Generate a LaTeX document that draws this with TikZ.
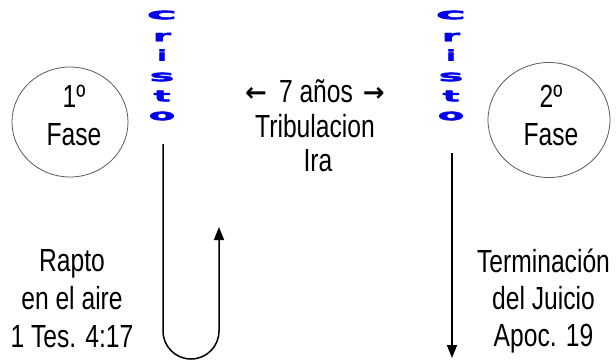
\documentclass[tikz,border=0pt]{standalone}
\usepackage{fontspec}
\setmainfont{Liberation Sans}[FakeStretch=0.77]
\newfontfamily\arrowfont{DejaVu Sans Bold}
\newfontfamily\cristofont{DejaVu Sans Bold}[FakeBold=2.5]
\usetikzlibrary{arrows.meta,shapes.geometric}
\definecolor{cblue}{RGB}{0,0,235}
\newcommand{\cletter}[2]{\scalebox{#1}[0.95]{#2}}
\newcommand{\sidearrow}[1]{\raisebox{1.5pt}{\arrowfont\fontsize{26}{26}\selectfont #1}}
\begin{document}
\begin{tikzpicture}[x=1pt,y=-1pt,
  txtA/.style={font=\fontsize{32}{38}\selectfont, align=center, inner sep=0pt},
  txtB/.style={font=\fontsize{32}{34.5}\selectfont, align=center, inner sep=0pt},
  txtC/.style={font=\fontsize{32}{38}\selectfont, align=center, inner sep=0pt},
  txtD/.style={font=\fontsize{32}{37}\selectfont, align=center, inner sep=0pt},
  fase/.style={ellipse, draw=black!65, line width=0.8pt, inner sep=0pt},
  letter/.style={font=\cristofont\fontsize{16}{16}\selectfont, text=cblue, inner sep=0pt},
  conn/.style={line width=1.5pt, -{Triangle[width=10pt,length=13pt]}}
]
\useasboundingbox (0,0) rectangle (616,360);
% circles
\node[fase, minimum width=116pt, minimum height=110pt] (f1) at (70,122) {};
\node[fase, minimum width=122pt, minimum height=115pt] (f2) at (549,120) {};
\node[txtA] (f1t) at (74,115.3) {1º\\Fase};
\node[txtA] (f2t) at (551,115.3) {2º\\Fase};
% Cristo columns
\foreach \col/\xx in {L/162, R/451}{
  \node[letter] (c1\col) at (\xx,15) {\cletter{3.2}{c}};
  \node[letter] (c2\col) at (\xx,37) {\cletter{2.3}{r}};
  \node[letter] (c3\col) at (\xx,55) {\cletter{1.7}{i}};
  \node[letter] (c4\col) at (\xx,77) {\cletter{2.6}{s}};
  \node[letter] (c5\col) at (\xx,96) {\cletter{2.2}{t}};
  \node[letter] (c6\col) at (\xx,116) {\cletter{2.4}{o}};
}
% middle text
\node[txtB] (mid) at (315,126) {\sidearrow{←}\hspace*{12pt}7 años\hspace*{10pt}\sidearrow{→}\\Tribulacion\\\hspace*{6pt}Ira};
% bottom texts
\node[txtC] (rapto) at (72,298.5) {Rapto\\en el aire\\1 Tes. 4:17};
\node[txtD] (term) at (543.5,301.4) {Terminación\\del Juicio\\Apoc. 19};
% connectors
\coordinate (uL) at (163,144);
\coordinate (uR) at (219,227);
\coordinate (aT) at (452,153);
\coordinate (aB) at (452,358);
\draw[conn] (uL) -- (163,331) arc[start angle=180, end angle=0, radius=28] -- (uR);
\draw[conn] (aT) -- (aB);
\end{tikzpicture}
\end{document}
